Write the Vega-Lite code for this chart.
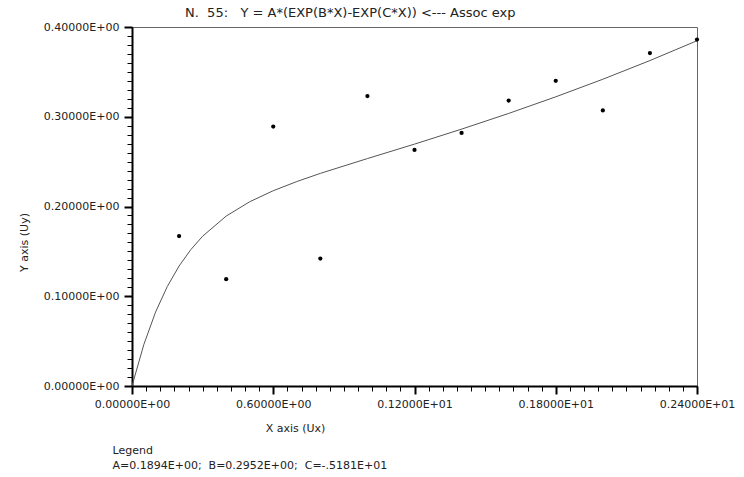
{
  "$schema": "https://vega.github.io/schema/vega-lite/v6.json",
  "autosize": {"type": "none"},
  "width": 565,
  "height": 359,
  "padding": {"left": 132, "top": 27, "right": 47, "bottom": 91},
  "background": "white",
  "title": {
    "text": "N.\u00a0 55:\u00a0\u00a0 Y = A*(EXP(B*X)-EXP(C*X)) <--- Assoc exp",
    "orient": "top",
    "anchor": "start",
    "frame": "group",
    "dx": 53,
    "offset": 1,
    "font": "DejaVu Sans",
    "fontSize": 13,
    "fontWeight": "normal",
    "color": "#222"
  },
  "datasets": {
    "points": [
      {"x": 0.2, "y": 0.167},
      {"x": 0.4, "y": 0.119},
      {"x": 0.6, "y": 0.289},
      {"x": 0.8, "y": 0.142},
      {"x": 1.0, "y": 0.323},
      {"x": 1.2, "y": 0.263},
      {"x": 1.4, "y": 0.282},
      {"x": 1.6, "y": 0.318},
      {"x": 1.8, "y": 0.340},
      {"x": 2.0, "y": 0.307},
      {"x": 2.2, "y": 0.371},
      {"x": 2.4, "y": 0.386}
    ],
    "fit": [
      {"x": 0.0, "y": 0.0},
      {"x": 0.05, "y": 0.0460},
      {"x": 0.1, "y": 0.0823},
      {"x": 0.15, "y": 0.1109},
      {"x": 0.2, "y": 0.1337},
      {"x": 0.25, "y": 0.1520},
      {"x": 0.3, "y": 0.1669},
      {"x": 0.4, "y": 0.1893},
      {"x": 0.5, "y": 0.2053},
      {"x": 0.6, "y": 0.2176},
      {"x": 0.7, "y": 0.2278},
      {"x": 0.8, "y": 0.2369},
      {"x": 1.0, "y": 0.2534},
      {"x": 1.2, "y": 0.2695},
      {"x": 1.4, "y": 0.2862},
      {"x": 1.6, "y": 0.3037},
      {"x": 1.8, "y": 0.3222},
      {"x": 2.0, "y": 0.3418},
      {"x": 2.2, "y": 0.3626},
      {"x": 2.4, "y": 0.3847}
    ]
  },
  "resolve": {"axis": {"x": "independent", "y": "independent"}},
  "layer": [
    {
      "data": {"name": "fit"},
      "mark": {"type": "line", "color": "#555", "strokeWidth": 1, "clip": true},
      "encoding": {
        "x": {
          "field": "x", "type": "quantitative",
          "scale": {"domain": [0, 2.4], "nice": false, "zero": false},
          "axis": {
            "orient": "bottom", "domain": false, "labels": false, "grid": false, "ticks": true,
            "values": [0,0.06,0.12,0.18,0.24,0.3,0.36,0.42,0.48,0.54,0.6,0.66,0.72,0.78,0.84,0.9,0.96,1.02,1.08,1.14,1.2,1.26,1.32,1.38,1.44,1.5,1.56,1.62,1.68,1.74,1.8,1.86,1.92,1.98,2.04,2.1,2.16,2.22,2.28,2.34,2.4],
            "tickColor": "#000000", "tickSize": 5, "tickWidth": 1, "tickOpacity": 1,
            "title": ["Legend", "A=0.1894E+00;\u00a0 B=0.2952E+00;\u00a0 C=-.5181E+01"],
            "titleX": -20, "titleY": 58, "titleAlign": "left", "titleBaseline": "top", "titleAnchor": "start",
            "titleLineHeight": 15,
            "titleFont": "DejaVu Sans", "titleFontSize": 11, "titleFontWeight": "normal", "titleColor": "#222"
          }
        },
        "y": {
          "field": "y", "type": "quantitative",
          "scale": {"domain": [0, 0.4], "nice": false},
          "axis": {
            "orient": "left", "domain": false, "labels": false, "grid": false, "title": null, "ticks": true,
            "values": [0,0.01,0.02,0.03,0.04,0.05,0.06,0.07,0.08,0.09,0.1,0.11,0.12,0.13,0.14,0.15,0.16,0.17,0.18,0.19,0.2,0.21,0.22,0.23,0.24,0.25,0.26,0.27,0.28,0.29,0.3,0.31,0.32,0.33,0.34,0.35,0.36,0.37,0.38,0.39,0.4],
            "tickColor": "#000000", "tickSize": 5, "tickWidth": 1, "tickOpacity": 1
          }
        }
      }
    },
    {
      "data": {"name": "points"},
      "mark": {"type": "circle", "color": "black", "size": 18, "opacity": 1, "clip": false},
      "encoding": {
        "x": {
          "field": "x", "type": "quantitative",
          "scale": {"domain": [0, 2.4], "nice": false, "zero": false},
          "axis": {
            "orient": "bottom", "grid": false,
            "values": [0, 0.6, 1.2, 1.8, 2.4],
            "labelExpr": "datum.value < 1 ? '0.' + format(round(datum.value*100000), '05d') + 'E+00' : '0.' + format(round(datum.value*10000), '05d') + 'E+01'",
            "labelFlush": false, "labelOverlap": false, "labelBound": false,
            "domainColor": "black", "domainWidth": 2,
            "tickColor": "black", "tickSize": 8, "tickWidth": 2,
            "labelPadding": 4,
            "labelFont": "DejaVu Sans", "labelFontSize": 11, "labelColor": "#222",
            "title": "X axis (Ux)",
            "titleX": 163, "titleY": 42, "titleAlign": "center", "titleBaseline": "middle",
            "titleFont": "DejaVu Sans", "titleFontSize": 11, "titleFontWeight": "normal", "titleColor": "#222"
          }
        },
        "y": {
          "field": "y", "type": "quantitative",
          "scale": {"domain": [0, 0.4], "nice": false},
          "axis": {
            "orient": "left", "grid": false,
            "values": [0, 0.1, 0.2, 0.3, 0.4],
            "labelExpr": "'0.' + format(round(datum.value*100000), '05d') + 'E+00'",
            "labelFlush": false, "labelOverlap": false, "labelBound": false,
            "domainColor": "black", "domainWidth": 2,
            "tickColor": "black", "tickSize": 8, "tickWidth": 2,
            "labelPadding": 5,
            "labelFont": "DejaVu Sans", "labelFontSize": 11, "labelColor": "#222",
            "title": "Y axis (Uy)",
            "titleX": -108, "titleY": 215, "titleAngle": -90, "titleAlign": "center", "titleBaseline": "middle",
            "titleFont": "DejaVu Sans", "titleFontSize": 11, "titleFontWeight": "normal", "titleColor": "#222"
          }
        }
      }
    }
  ],
  "config": {
    "view": {"stroke": "#666", "strokeWidth": 1}
  }
}
